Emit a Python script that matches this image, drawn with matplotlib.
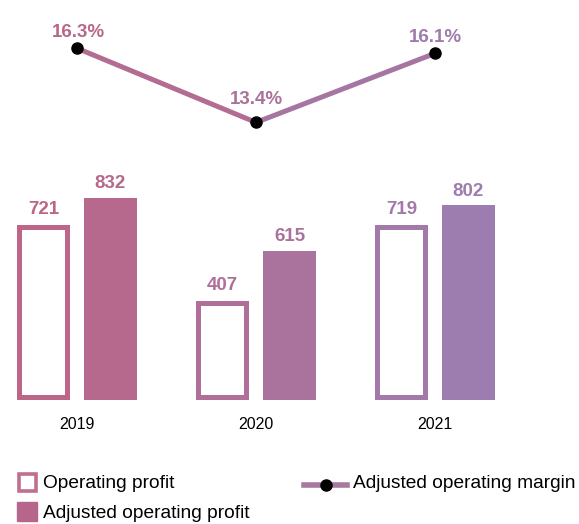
import matplotlib.pyplot as plt
import numpy as np
from matplotlib.colors import LinearSegmentedColormap
from matplotlib.patches import Rectangle
from matplotlib.lines import Line2D

years = ["2019", "2020", "2021"]
operating_profit = [721, 407, 719]
adjusted_profit = [832, 615, 802]
adjusted_margin = [16.3, 13.4, 16.1]

plt.rcParams['font.family'] = ['Liberation Sans', 'DejaVu Sans']

W, H = 579, 524
fig = plt.figure(figsize=(W / 100, H / 100), dpi=100)
ax = fig.add_axes([0, 1 - 400 / H, 1, 400 / H])

# colour runs pink -> purple from left to right
cmap = LinearSegmentedColormap.from_list("grad", ["#bf6383", "#9583b9"])
x0, x1 = -77 / 179, (W - 77) / 179
def col(x):
    return cmap((x - x0) / (x1 - x0))

x = np.arange(len(years))
off = 0.187
bw = 0.30

for i in range(len(years)):
    xo = x[i] - off
    xa = x[i] + off
    b = ax.bar(xo, operating_profit[i], width=bw - 0.004, facecolor="white",
               edgecolor=col(xo), linewidth=7.2)[0]
    b.set_clip_path(b)  # keep the stroke inside the bar
    ax.bar(xa, adjusted_profit[i], width=bw, color=col(xa))
    ax.annotate(str(operating_profit[i]), (xo, operating_profit[i]),
                xytext=(0, 8), textcoords="offset points", ha="center",
                va="baseline", fontsize=13.5, fontweight="bold", color=col(xo))
    ax.annotate(str(adjusted_profit[i]), (xa, adjusted_profit[i]),
                xytext=(0, 7), textcoords="offset points", ha="center",
                va="baseline", fontsize=13.5, fontweight="bold", color=col(xa))

ax.set_xlim(x0, x1)
ax.set_ylim(0, 400 / 0.2428)
ax.set_xticks(x)
ax.set_xticklabels(years, fontsize=11.5)
ax.tick_params(axis="x", length=0, pad=12.5)
ax.set_yticks([])
for s in ax.spines.values():
    s.set_visible(False)

# margin line on its own scale
ax2 = ax.twinx()
ax2.set_ylim(2.544, 2.544 + 400 / 25.57)
ax2.set_yticks([])
for s in ax2.spines.values():
    s.set_visible(False)
for i in range(len(years) - 1):
    ax2.plot(x[i:i + 2], adjusted_margin[i:i + 2], color=col((x[i] + x[i + 1]) / 2),
             linewidth=3.6, solid_capstyle="butt", zorder=2)
ax2.plot(x, adjusted_margin, "o", color="black", markersize=8, zorder=3)
lab_off = [8, 13.5, 8.5]
for i in range(len(years)):
    ax2.annotate(f"{adjusted_margin[i]}%", (x[i], adjusted_margin[i]),
                 xytext=(1 if i == 0 else 0, lab_off[i]), textcoords="offset points",
                 ha="center", va="baseline", fontsize=13.5, fontweight="bold",
                 color=col(x[i]))

# legend drawn by hand
fig.patches.append(Rectangle((18.5 / W, 1 - 491 / H), 17 / W, 17 / H,
                             transform=fig.transFigure, facecolor="white",
                             edgecolor="#c0708f", linewidth=2.6))
fig.text(43 / W, 1 - 484 / H, "Operating profit", fontsize=13.75, va="center")
fig.patches.append(Rectangle((17 / W, 1 - 521 / H), 20 / W, 19 / H,
                             transform=fig.transFigure, color="#b5668a"))
fig.text(43 / W, 1 - 513 / H, "Adjusted operating profit", fontsize=13.75, va="center")
fig.lines.append(Line2D([304 / W, 347 / W], [1 - 485 / H] * 2, transform=fig.transFigure,
                        color="#a8789f", linewidth=4))
fig.lines.append(Line2D([326 / W], [1 - 485 / H], transform=fig.transFigure,
                        marker="o", color="black", markersize=8))
fig.text(353 / W, 1 - 484 / H, "Adjusted operating margin", fontsize=13.75, va="center")

fig.savefig("out.png", dpi=100)
